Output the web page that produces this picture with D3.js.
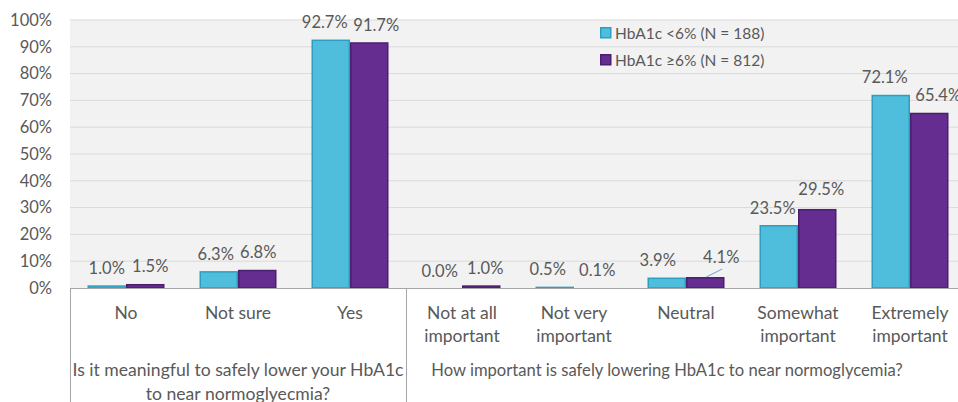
<!DOCTYPE html>
<html><head><meta charset="utf-8">
<script src="https://cdn.jsdelivr.net/npm/d3@7"></script>
<style>
html,body{margin:0;padding:0;background:#fff;}
svg{display:block;font-family:Lato,"Open Sans",sans-serif;}
</style></head>
<body><svg id="chart" width="958" height="402"></svg>
<script>
const categories = [["No"],["Not sure"],["Yes"],["Not at all","important"],["Not very","important"],["Neutral"],["Somewhat","important"],["Extremely","important"]];
const seriesNames = ["HbA1c <6% (N = 188)","HbA1c \u22656% (N = 812)"];
const seriesLow = [1.0, 6.3, 92.7, 0.0, 0.5, 3.9, 23.5, 72.1];
const seriesHigh = [1.5, 6.8, 91.7, 1.0, 0.1, 4.1, 29.5, 65.4];
const yTicks = [0,10,20,30,40,50,60,70,80,90,100];
const groups = [
  {lines:["Is it meaningful to safely lower your HbA1c","to near normoglyecmia?"], from:0, to:2},
  {lines:["How important is safely lowering HbA1c to near normoglycemia?"], from:3, to:7}
];
// label nudges (layout only), [series][category] dx, dy
const nudgeDx = [[0,-3,-6,-3,-7,-9,-6,-6],[5,1,7,4,4,16,4,9]];
const nudgeDy = [[0,0,0,0,0,0,0,0],[0,0,0,0,0,-3,-2,0]];
const groupFontSizes = ["17.6px","16.6px"];

const fills = ["#4FBEDD","#652D90"];
const strokes = ["#2A9FC2","#4A1F6E"];
const textColor = "#595959";

const svg = d3.select("#chart");
const mLeft = 70, mTop = 20, mBottom = 288, step = 112;
const x0 = d3.scaleBand().domain(d3.range(categories.length)).range([mLeft, mLeft + step*categories.length]).paddingInner(0).paddingOuter(0);
const x1 = d3.scaleBand().domain([0,1]).range([0, x0.bandwidth()]).paddingInner(0).paddingOuter(0.4545);
const y = d3.scaleLinear().domain([0,100]).range([mBottom, mTop]);

svg.append("rect").attr("x", mLeft).attr("y", y(100)).attr("width", 958-mLeft).attr("height", y(0)-y(100)).attr("fill", "#F2F2F2");

svg.append("g").selectAll("line").data(yTicks.filter(d=>d>0)).join("line")
  .attr("x1", mLeft).attr("x2", 958).attr("y1", d=>y(d)).attr("y2", d=>y(d))
  .attr("stroke", "#D9D9D9").attr("stroke-width", 1);

const yAxis = d3.axisLeft(y).tickValues(yTicks).tickFormat(d=>d+"%").tickSize(0).tickPadding(18);
const ya = svg.append("g").attr("transform", `translate(${mLeft},0)`).call(yAxis);
ya.select(".domain").remove();
ya.selectAll("text").attr("fill", textColor).style("font-size","16.5px").style("font-family","Lato");

const data = [seriesLow, seriesHigh];
data.forEach((vals, s) => {
  svg.append("g").selectAll("rect").data(vals).join("rect")
    .attr("x", (d,i)=>x0(i)+x1(s)+0.75)
    .attr("y", d=>y(d)+0.75)
    .attr("width", x1.bandwidth()-1.5)
    .attr("height", d=>Math.max(0, y(0)-y(d)-0.75))
    .attr("fill", fills[s]).attr("stroke", strokes[s]).attr("stroke-width", 1.5);
});

svg.append("line").attr("x1", mLeft).attr("x2", 958).attr("y1", y(0)+0.5).attr("y2", y(0)+0.5).attr("stroke", "#A6A6A6").attr("stroke-width",1);
[0, 3].forEach(i => {
  svg.append("line").attr("x1", x0(i)+0.5).attr("x2", x0(i)+0.5).attr("y1", y(0)).attr("y2", 402)
    .attr("stroke", "#A6A6A6").attr("stroke-width", 1);
});

{
  const i = 5, cx = x0(i)+x1(1)+x1.bandwidth()/2;
  svg.append("line").attr("x1", cx+1).attr("y1", y(seriesHigh[i])).attr("x2", cx+17).attr("y2", y(seriesHigh[i])-8)
    .attr("stroke", "#6E9BE0").attr("stroke-width", 1);
}

data.forEach((vals, s) => {
  svg.append("g").selectAll("text").data(vals).join("text")
    .attr("x", (d,i)=>x0(i)+x1(s)+x1.bandwidth()/2 + nudgeDx[s][i])
    .attr("y", (d,i)=>y(d)-11.5 + nudgeDy[s][i])
    .attr("text-anchor","middle").attr("fill", textColor)
    .style("font-size","16.5px")
    .text(d=>d.toFixed(1)+"%");
});

categories.forEach((lines, i) => {
  const t = svg.append("text").attr("x", x0(i)+x0.bandwidth()/2).attr("y", 319)
    .attr("text-anchor","middle").attr("fill", textColor).style("font-size","17.5px");
  lines.forEach((l, k) => t.append("tspan").attr("x", x0(i)+x0.bandwidth()/2).attr("dy", k===0?0:23).text(l));
});

groups.forEach((g, gi) => {
  let cx = (x0(g.from) + x0(g.to) + x0.bandwidth())/2;
  if (gi === 1) cx = Math.min(cx, (x0(g.from) + 958)/2 - 15);
  const t = svg.append("text").attr("x", cx).attr("y", 376).attr("text-anchor","middle")
    .attr("fill", textColor).style("font-size", groupFontSizes[gi]);
  g.lines.forEach((l, k) => t.append("tspan").attr("x", cx).attr("dy", k===0?0:24).text(l));
});

const lg = svg.append("g").attr("transform","translate(600,27)");
seriesNames.forEach((n, s) => {
  const row = lg.append("g").attr("transform", `translate(0,${s*27})`);
  row.append("rect").attr("x",0.75).attr("y",0.75).attr("width",10).attr("height",10)
    .attr("fill", fills[s]).attr("stroke", strokes[s]).attr("stroke-width",1.5);
  row.append("text").attr("x",15).attr("y",11.5).attr("fill", textColor).style("font-size","15.5px").text(n);
});
</script></body></html>
